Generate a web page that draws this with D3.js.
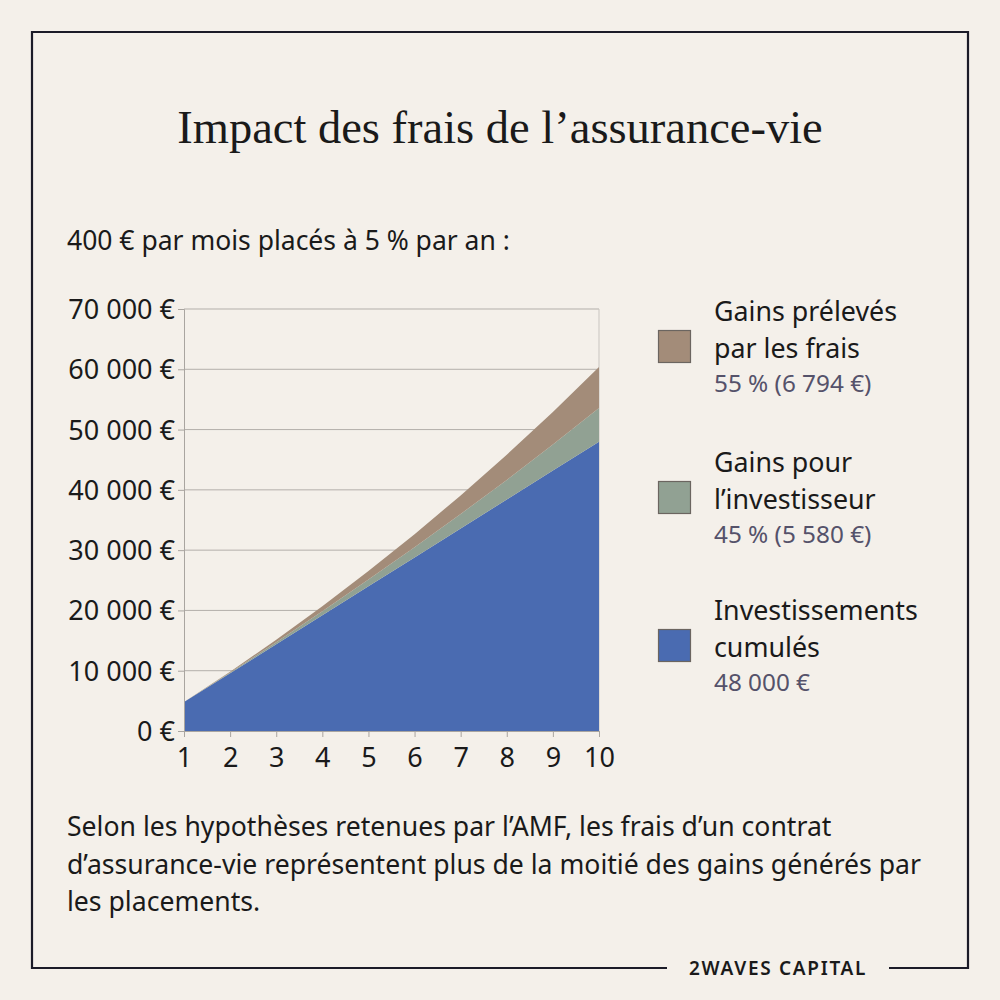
<!DOCTYPE html>
<html><head><meta charset="utf-8">
<script src="https://cdn.jsdelivr.net/npm/d3@7"></script>
<style>
html,body{margin:0;padding:0;background:#f4f0ea;}
svg{display:block;}
</style></head>
<body>
<svg id="c" width="1000" height="1000"></svg>
<script>
const years = [1,2,3,4,5,6,7,8,9,10];
const investissements = [4800,9600,14400,19200,24000,28800,33600,38400,43200,48000];
const gainsInvestisseur = [0,110,330,680,1130,1700,2400,3240,4330,5580];
const gainsFrais = [0,130,400,810,1390,2150,3080,4200,5400,6794];
const yTicks = [0,10000,20000,30000,40000,50000,60000,70000];
const seriesKeys = ["investissements","gainsInvestisseur","gainsFrais"];
const seriesColors = ["#4a6bb1","#91a193","#a38c79"];
const legendItems = [
  {lines:["Gains prélevés","par les frais"], sub:"55 % (6 794 €)", color:"#a38c79"},
  {lines:["Gains pour","l’investisseur"], sub:"45 % (5 580 €)", color:"#91a193"},
  {lines:["Investissements","cumulés"], sub:"48 000 €", color:"#4a6bb1"}
];

const svg = d3.select("#c");
const sans = "'Noto Sans','Open Sans',sans-serif";

// frame
const frame = svg.append("g").attr("stroke","#1b1b28").attr("stroke-width",2.2).attr("fill","none");
frame.append("path").attr("d","M667,968 H32 V32 H968 V968 H889");

svg.append("text").attr("x",500).attr("y",143).attr("text-anchor","middle")
  .attr("font-family","'Liberation Serif','DejaVu Serif',serif").attr("font-size",46.5)
  .attr("fill","#1a1a1a").text("Impact des frais de l’assurance-vie");

svg.append("text").attr("x",67).attr("y",250).attr("font-family",sans).attr("font-size",26.5)
  .attr("fill","#1a1a1a").text("400 € par mois placés à 5 % par an :");

// chart
const x = d3.scaleLinear().domain([1,10]).range([184,599]);
const y = d3.scaleLinear().domain([0,70000]).range([731,309]);

const table = years.map((yr,i)=>({year:yr, investissements:investissements[i], gainsInvestisseur:gainsInvestisseur[i], gainsFrais:gainsFrais[i]}));
const stack = d3.stack().keys(seriesKeys)(table);

// grid
svg.append("g").selectAll("line").data(yTicks.slice(1)).join("line")
  .attr("x1",184).attr("x2",599).attr("y1",d=>y(d)).attr("y2",d=>y(d))
  .attr("stroke","#b3afaa").attr("stroke-width",1);
svg.append("line").attr("x1",599).attr("x2",599).attr("y1",y(70000)).attr("y2",y(0))
  .attr("stroke","#c9c5c0").attr("stroke-width",1);

const area = d3.area().x(d=>x(d.data.year)).y0(d=>y(d[0])).y1(d=>y(d[1]));
svg.append("g").selectAll("path").data(stack).join("path")
  .attr("d",area).attr("fill",(d,i)=>seriesColors[i]);

// axes
const yAxis = d3.axisLeft(y).tickValues(yTicks).tickSize(6).tickPadding(3)
  .tickFormat(d=>d3.format(",")(d).replace(/,/g," ")+" €");
const gy = svg.append("g").attr("transform","translate(184,0)").call(yAxis);
gy.select(".domain").attr("stroke","#a9a5a0");
gy.selectAll(".tick line").attr("stroke","#a9a5a0");
gy.selectAll("text").attr("font-family",sans).attr("font-size",27).attr("fill","#1a1a1a").attr("dy","0.35em");

const xAxis = d3.axisBottom(x).tickValues(years).tickSize(6).tickPadding(11).tickFormat(d3.format("d"));
const gx = svg.append("g").attr("transform","translate(0,731)").call(xAxis);
gx.select(".domain").attr("stroke","#a9a5a0");
gx.selectAll(".tick line").attr("stroke","#a9a5a0");
gx.selectAll("text").attr("font-family",sans).attr("font-size",27).attr("fill","#1a1a1a");

// legend
const legTop = [311,462,610];
legendItems.forEach((it,i)=>{
  const g = svg.append("g").attr("transform",`translate(0,${legTop[i]})`);
  g.append("rect").attr("x",658.5).attr("y",19.5).attr("width",32).attr("height",32)
    .attr("fill",it.color).attr("stroke","#6b6560").attr("stroke-width",1.2);
  it.lines.forEach((l,j)=>{
    g.append("text").attr("x",714).attr("y",10+j*37).attr("font-family",sans).attr("font-size",26.8)
      .attr("fill","#1a1a1a").text(l);
  });
  g.append("text").attr("x",714).attr("y",81).attr("font-family",sans).attr("font-size",24.3)
    .attr("fill","#55526a").text(it.sub);
});

// note
const note = ["Selon les hypothèses retenues par l’AMF, les frais d’un contrat",
  "d’assurance-vie représentent plus de la moitié des gains générés par",
  "les placements."];
svg.append("g").selectAll("text").data(note).join("text")
  .attr("x",67).attr("y",(d,i)=>836+i*37.5).attr("font-family",sans).attr("font-size",26.6)
  .attr("fill","#1a1a1a").text(d=>d);

svg.append("text").attr("x",778).attr("y",975).attr("text-anchor","middle")
  .attr("font-family",sans).attr("font-size",19).attr("font-weight",600)
  .attr("letter-spacing",1.7).attr("fill","#1a1a1a").text("2WAVES CAPITAL");
</script>
</body></html>
